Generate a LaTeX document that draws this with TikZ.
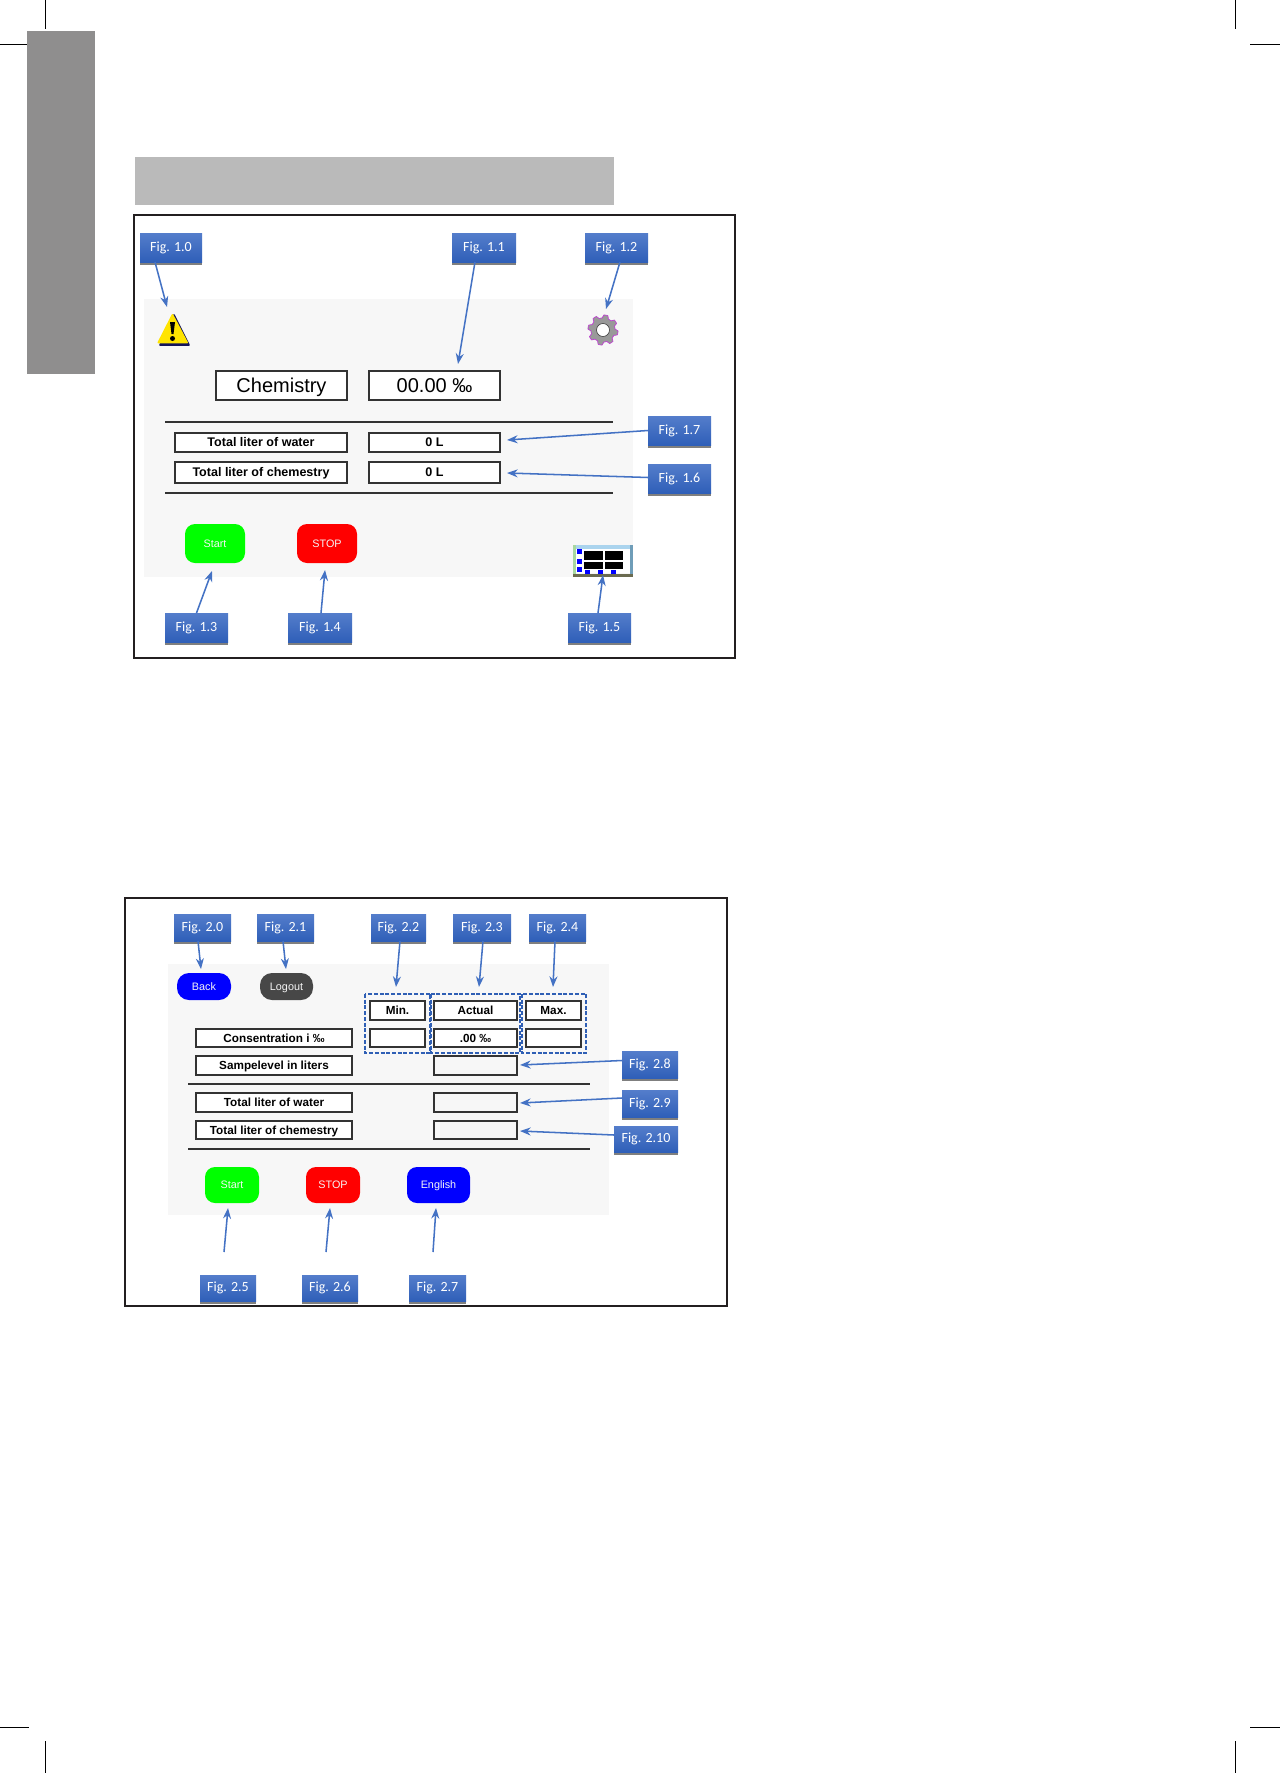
\documentclass[tikz,border=0pt]{standalone}
\usepackage{fontspec}
\setmainfont{Liberation Sans}
\newfontfamily\figfont{Carlito}
\usetikzlibrary{arrows.meta,shadows,calc}
\definecolor{arrowblue}{HTML}{4472C4}
\definecolor{dashblue}{HTML}{2F5FB5}
\definecolor{framedark}{HTML}{231F20}
\definecolor{panelbg}{HTML}{F7F7F7}
\tikzset{
  figbox/.style={rectangle,inner sep=0pt,outer sep=0pt,top color=figtop,bottom color=figbot,
    text=white,font=\figfont\fontsize{10.5}{12}\selectfont,
    drop shadow={shadow xshift=0pt,shadow yshift=-2pt,opacity=.5,fill=black}},
  cell/.style={rectangle,draw=black!80,line width=.9pt,fill=white,inner sep=0pt,outer sep=0pt,
    text height=6.6pt,text depth=0pt,font=\bfseries\fontsize{9.4}{11}\selectfont},
  cellb/.style={cell,text height=6.3pt,font=\bfseries\fontsize{8.8}{11}\selectfont},
  bigcell/.style={cell,text height=10.6pt,font=\fontsize{15}{18}\selectfont},
  btn/.style={rectangle,rounded corners=7.5pt,inner sep=0pt,outer sep=0pt,text=white!92!gray,
    text height=5.8pt,text depth=0pt,font=\fontsize{8.1}{10}\selectfont},
  arr/.style={draw=arrowblue,line width=1.15pt,-{Stealth[length=8pt,width=6pt]}},
  dashbox/.style={draw=dashblue,line width=1pt,dash pattern=on 3pt off 1.3pt},
  rule/.style={draw=black!80,line width=1pt},
  cropmark/.style={draw=black,line width=.6pt},
  outerframe/.style={draw=framedark,line width=1.9pt}
}
\definecolor{figtop}{HTML}{547DCB}
\definecolor{figbot}{HTML}{2F5FB8}
\newcommand{\placebox}[7]{\node[#6,minimum width={(#4-#2)*0.75pt},minimum height={(#5-#3)*0.75pt}] (#1) at ({(#2+#4)/2},{(#3+#5)/2}) {#7};}
\newcommand{\conn}[6]{\coordinate (#4) at (#5,#6); \draw[arr] ([shift={(#2,#3)}]#1) -- (#4);}
\begin{document}
\begin{tikzpicture}[x=0.75pt,y=-0.75pt]
\useasboundingbox (0,0) rectangle (1280,1773);
\fill[white] (0,0) rectangle (1280,1773);
% crop marks
\draw[cropmark] (45,0) -- (45,29);
\draw[cropmark] (0,44) -- (29,44);
\draw[cropmark] (1235,0) -- (1235,29);
\draw[cropmark] (1250,44) -- (1280,44);
\draw[cropmark] (45,1741) -- (45,1773);
\draw[cropmark] (0,1727) -- (29,1727);
\draw[cropmark] (1235,1741) -- (1235,1773);
\draw[cropmark] (1250,1727) -- (1280,1727);
% sidebar and header
\fill[fill={rgb,255:red,143;green,142;blue,142}] (27,31) rectangle (95,374);
\fill[fill={rgb,255:red,186;green,186;blue,186}] (135,157) rectangle (614,205);
% ---------- first panel
\draw[outerframe] (134,215) rectangle (735,658);
\fill[panelbg] (144,299) rectangle (633,577);
% warning icon
\filldraw[fill={rgb,255:red,20;green,20;blue,90},draw={rgb,255:red,20;green,20;blue,90},line width=1.2pt,line join=round] (174,315) -- (189,345) -- (160,345) -- cycle;
\filldraw[fill={rgb,255:red,255;green,228;blue,0},draw={rgb,255:red,255;green,228;blue,0},line width=1.4pt,line join=round] (172.5,315) -- (187,342.5) -- (158.5,342.5) -- cycle;
\fill[black] (170,322) -- (175,322) -- (173.5,334) -- (171.5,334) -- cycle;
\fill[black] (172.5,338.5) circle (2.5);
% gear
\begin{scope}[shift={(603,330)}]
  \fill[fill=gray!80,draw={rgb,255:red,190;green,60;blue,210},line width=.5pt,line join=round]
    plot[domain=0:360,samples=97] (\x:{13.6+1.5*sign(sin(8*\x))}) -- cycle;
  \fill[white] (0,0) circle (6.5);
  \draw[gray!50!black,line width=.5pt] (0,0) circle (6.5);
\end{scope}
% table icon
\fill[fill={rgb,255:red,171;green,212;blue,238}] (573,545) rectangle (633,549);
\fill[fill={rgb,255:red,168;green,216;blue,160}] (573,545) rectangle (576,577);
\fill[fill={rgb,255:red,111;green,157;blue,184}] (630,545) rectangle (633,577);
\fill[white] (576,549) rectangle (630,573);
\fill[fill={rgb,255:red,107;green,107;blue,80}] (573,573.5) rectangle (633,577);
\fill[black] (584,551) rectangle (603,560);
\fill[black] (604.5,551) rectangle (623,560);
\fill[black] (584,562) rectangle (603,569);
\fill[black] (604.5,562) rectangle (623,569);
\foreach \yy in {549,558.5,567} \fill[blue] (577,\yy) rectangle (582,\yy+5);
\foreach \xx in {584.5,598,611} \fill[blue] (\xx,570) rectangle (\xx+5,573.5);
% main cells
\placebox{chem}{216}{371}{347}{400}{bigcell}{Chemistry}
\placebox{chemval}{369}{371}{500}{400}{bigcell}{00.00 ‰}
\draw[rule] (165,422) -- (613,422);
\placebox{water}{175}{433}{347}{452}{cell}{Total liter of water}
\placebox{waterval}{369}{433}{500}{452}{cell}{0 L}
\placebox{chemtot}{175}{462}{347}{483}{cell}{Total liter of chemestry}
\placebox{chemtotval}{369}{462}{500}{483}{cell}{0 L}
\draw[rule] (165,493) -- (613,493);
\placebox{startA}{185}{524}{245}{563}{btn,fill={rgb,255:red,0;green,255;blue,0}}{Start}
\placebox{stopA}{297}{524}{357}{563}{btn,fill=red}{STOP}
% labels
\placebox{f10}{140}{233}{202}{262}{figbox}{Fig. 1.0}
\placebox{f11}{452}{233}{516}{262}{figbox}{Fig. 1.1}
\placebox{f12}{585}{233}{648}{262}{figbox}{Fig. 1.2}
\placebox{f17}{648}{416}{711}{445}{figbox}{Fig. 1.7}
\placebox{f16}{648}{464}{711}{493}{figbox}{Fig. 1.6}
\placebox{f13}{165}{613}{228}{642}{figbox}{Fig. 1.3}
\placebox{f14}{288}{613}{352}{642}{figbox}{Fig. 1.4}
\placebox{f15}{568}{613}{631}{642}{figbox}{Fig. 1.5}
\conn{f10.south}{-16}{0}{a10}{167}{307}
\conn{f11.south}{-9}{0}{a11}{458}{364}
\conn{f12.south}{3.5}{0}{a12}{606}{309}
\conn{f17.west}{0}{0}{a17}{507}{440}
\conn{f16.west}{0}{-1}{a16}{507}{473}
\conn{f13.north}{0}{0}{a13}{212}{571}
\conn{f14.north}{1}{0}{a14}{325}{570}
\conn{f15.north}{-1.5}{0}{a15}{603}{575}
% ---------- second panel
\draw[outerframe] (125,898) rectangle (727,1306);
\fill[panelbg] (168,964) rectangle (609,1215);
\placebox{back}{177}{973}{231}{1000}{btn,fill=blue,rounded corners=9pt}{Back}
\placebox{logout}{260}{973}{313}{1000}{btn,fill=black!72,rounded corners=9pt}{Logout}
\draw[dashbox] (365,994) rectangle (430,1053);
\draw[dashbox] (431,994) rectangle (520,1053);
\draw[dashbox] (522,994) rectangle (586,1053);
\placebox{minh}{370}{1001}{425}{1020}{cellb}{Min.}
\placebox{acth}{434}{1001}{517}{1020}{cellb}{Actual}
\placebox{maxh}{526}{1001}{581}{1020}{cellb}{Max.}
\placebox{conc}{196}{1029}{352}{1047}{cellb}{Consentration i ‰}
\placebox{minv}{370}{1029}{425}{1047}{cellb}{}
\placebox{actv}{434}{1029}{517}{1047}{cellb}{.00 ‰}
\placebox{maxv}{526}{1029}{581}{1047}{cellb}{}
\placebox{samp}{196}{1056}{352}{1075}{cellb}{Sampelevel in liters}
\placebox{sampv}{434}{1056}{517}{1075}{cellb,fill=panelbg}{}
\draw[rule] (188,1084) -- (590,1084);
\placebox{waterB}{196}{1093}{352}{1112}{cellb}{Total liter of water}
\placebox{waterBv}{434}{1093}{517}{1112}{cellb,fill=panelbg}{}
\placebox{chemB}{196}{1121}{352}{1139}{cellb}{Total liter of chemestry}
\placebox{chemBv}{434}{1121}{517}{1139}{cellb,fill=panelbg}{}
\draw[rule] (188,1149) -- (590,1149);
\placebox{startB}{205}{1167}{259}{1203}{btn,fill={rgb,255:red,0;green,255;blue,0}}{Start}
\placebox{stopB}{306}{1167}{360}{1203}{btn,fill=red}{STOP}
\placebox{engB}{407}{1167}{470}{1203}{btn,fill=blue}{English}
% labels
\placebox{f20}{174}{914}{231}{941}{figbox}{Fig. 2.0}
\placebox{f21}{257}{914}{314}{941}{figbox}{Fig. 2.1}
\placebox{f22}{371}{914}{426}{941}{figbox}{Fig. 2.2}
\placebox{f23}{453}{914}{511}{941}{figbox}{Fig. 2.3}
\placebox{f24}{529}{914}{586}{941}{figbox}{Fig. 2.4}
\placebox{f28}{622}{1051}{678}{1078}{figbox}{Fig. 2.8}
\placebox{f29}{622}{1090}{678}{1117}{figbox}{Fig. 2.9}
\placebox{f210}{614}{1126}{678}{1152}{figbox}{Fig. 2.10}
\placebox{f25}{200}{1275}{256}{1301}{figbox}{Fig. 2.5}
\placebox{f26}{302}{1275}{358}{1301}{figbox}{Fig. 2.6}
\placebox{f27}{409}{1275}{466}{1301}{figbox}{Fig. 2.7}
\conn{f20.south}{-4.5}{0}{a20}{201}{969}
\conn{f21.south}{-2.5}{0}{a21}{286}{969}
\conn{f22.south}{1.5}{0}{a22}{396}{987}
\conn{f23.south}{1}{0}{a23}{479}{987}
\conn{f24.south}{-2.5}{0}{a24}{553}{987}
\conn{f28.west}{0}{-4}{a28}{520}{1065}
\conn{f29.west}{0}{-5.5}{a29}{520}{1103}
\conn{f210.west}{0}{-4}{a210}{520}{1131}
\conn{f25.north}{-4}{-23}{a25}{228}{1208}
\conn{f26.north}{-4}{-23}{a26}{330}{1208}
\conn{f27.north}{-4.5}{-23}{a27}{436}{1208}
\end{tikzpicture}
\end{document}
